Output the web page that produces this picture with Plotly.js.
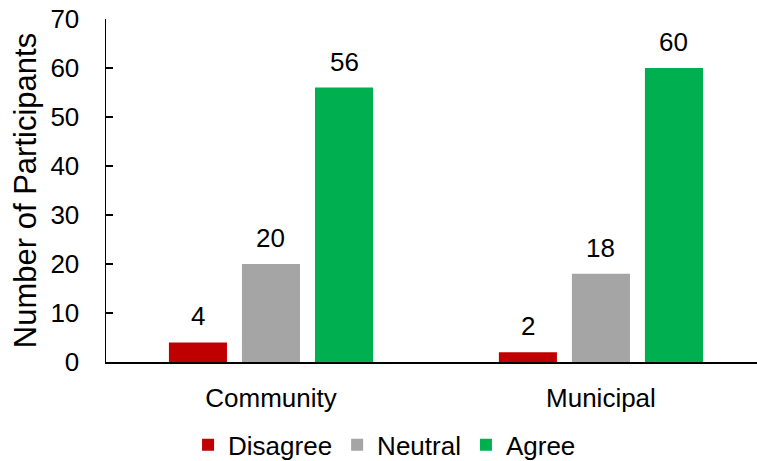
<!DOCTYPE html>
<html>
<head>
<meta charset="utf-8">
<script src="https://cdn.plot.ly/plotly-3.0.1.min.js"></script>
<style>html,body{margin:0;padding:0;background:#fff;}#chart{width:757px;height:461px;}</style>
</head>
<body>
<div id="chart"></div>
<script>
const categories = ["Community", "Municipal"];
const seriesNames = ["Disagree", "Neutral", "Agree"];
const disagree = [4, 2];
const neutral = [20, 18];
const agree = [56, 60];
const yTicks = [0, 10, 20, 30, 40, 50, 60, 70];

const seriesValues = [disagree, neutral, agree];
const colors = ["#C00000", "#A5A5A5", "#00B050"];
const FONT = "Liberation Sans, Arial, sans-serif";
const FS = 26;
const bargap = 0.336;
const bargroupgap = 0.205;

const traces = seriesValues.map((vals, j) => ({
  type: "bar",
  name: seriesNames[j],
  x: categories,
  y: vals,
  marker: {color: colors[j]},
  hoverinfo: "skip"
}));

const slot = (1 - bargap) / seriesValues.length;
const annotations = [];
seriesValues.forEach((vals, j) => {
  vals.forEach((v, i) => {
    annotations.push({
      x: i + (j - (seriesValues.length - 1) / 2) * slot,
      y: v,
      xref: "x", yref: "y",
      text: String(v),
      showarrow: false,
      yanchor: "bottom",
      yshift: 9,
      font: {family: FONT, size: FS, color: "#000"}
    });
  });
});

const layout = {
  width: 757, height: 461,
  margin: {l: 106, r: 0, t: 19, b: 99},
  paper_bgcolor: "#fff", plot_bgcolor: "#fff",
  barmode: "group",
  bargap: bargap,
  bargroupgap: bargroupgap,
  font: {family: FONT, size: FS, color: "#000"},
  showlegend: true,
  legend: {
    orientation: "h", xref: "container", yref: "container",
    x: 0.508, xanchor: "center", y: 0.035, yanchor: "middle",
    font: {family: FONT, size: FS, color: "#000"},
    itemwidth: 30, tracegroupgap: 0, traceorder: "normal"
  },
  xaxis: {
    type: "category",
    range: [-0.5, 1.473],
    showline: true, linecolor: "#000", linewidth: 1.5,
    ticks: "", showgrid: false, zeroline: false,
    ticklabelstandoff: 12,
    tickfont: {family: FONT, size: FS, color: "#000"}
  },
  yaxis: {
    range: [0, 70],
    tickvals: yTicks,
    ticktext: yTicks.map(String),
    showline: true, linecolor: "#000", linewidth: 1.5,
    ticks: "inside", ticklen: 7, tickcolor: "#000", tickwidth: 1.5,
    showgrid: false, zeroline: false,
    ticklabelstandoff: 20,
    tickfont: {family: FONT, size: FS, color: "#000"},
    title: {text: "Number of Participants", font: {family: FONT, size: 31, color: "#000"}, standoff: 4}
  },
  annotations: annotations
};

Plotly.newPlot("chart", traces, layout, {displayModeBar: false, staticPlot: true});
</script>
</body>
</html>
